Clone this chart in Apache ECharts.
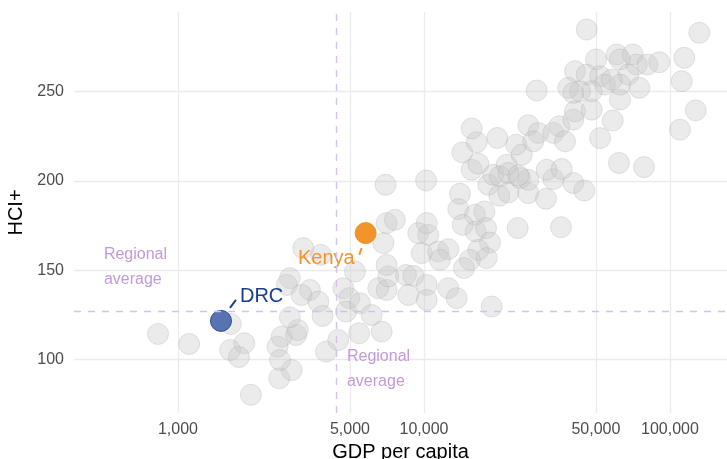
<!DOCTYPE html>
<html>
<head>
<meta charset="utf-8">
<script src="https://cdn.jsdelivr.net/npm/echarts@6/dist/echarts.min.js"></script>
<style>html,body{margin:0;padding:0;background:#fff}#c{width:727px;height:459px}</style>
</head>
<body>
<div id="c"></div>
<script>
// GDP per capita (x) and HCI+ (y) for each country (grey background points)
const gdp = [830,1110,1640,1630,1860,1770,1980,2580,2900,2540,2600,2640,3020,3070,2850,3230,3810,2850,2770,3440,3180,3720,3870,4000,4480,4700,4970,4820,
  5240,5490,6130,5450,6730,6520,7050,7160,7050,6840,7050,7620,6980,10200,8450,9050,8640,10260,10260,9480,10410,10260,9790,11430,12560,11610,12560,13580,18850,
  14010,13790,16120,17590,14370,16230,17870,18550,16630,15380,14540,17990,24040,36050,18260,20240,22020,26550,31330,26550,24560,33540,40450,44840,
  15630,16630,19130,20370,21690,22020,24170,31540,36290,62040,78410,
  14310,16380,15630,19860,23700,24960,26550,29150,27820,33540,35480,37430,40450,41100,48050,52000,58490,28720,45860,131560,114320,111590,127200,109830,
  50030,41100,60710,70540,62620,73220,80880,90490,67690,51930,45860,54420,48050,43070,38600,40450,62620,75030,62620,57940];
const hci = [114.4,108.8,120.0,105.4,109.2,101.5,80.4,89.6,94.2,107.3,99.8,112.9,113.8,116.6,123.7,162.4,158.6,145.6,141.8,139.0,136.2,132.5,124.5,104.5,111.0,140.0,134.4,126.9,
  149.3,131.6,125.0,114.8,115.7,140.0,139.0,146.5,153.0,165.2,176.4,178.2,197.8,200.2,147.4,146.9,136.2,141.8,133.4,170.8,169.8,176.4,159.6,160.5,161.8,155.8,140.0,134.4,129.7,
  192.8,184.2,181.0,182.9,175.4,171.7,173.6,165.5,161.4,155.8,151.2,156.8,173.6,174.1,197.8,191.7,193.5,193.2,190.0,200.6,201.6,201.0,198.8,194.6,
  206.2,209.6,203.4,202.5,209.0,204.4,202.9,206.2,206.6,210.0,207.7,
  215.9,221.6,229.3,224.0,220.2,214.6,231.1,226.8,222.1,226.8,230.5,222.1,234.2,238.9,239.8,223.9,233.7,250.5,284.6,282.8,268.8,255.7,239.4,228.6,
  267.9,261.3,270.7,270.7,267.9,265.0,265.0,266.3,259.4,258.5,259.4,253.8,250.1,250.1,252.0,249.2,245.4,252.0,253.8,256.6];

// highlighted countries
const drcPoint = [1496, 121.7];
const kenyaPoint = [5794, 170.8];
// regional averages
const avgGdp = 4390;
const avgHci = 127.1;
// axis ticks
const xTicks = [1000, 5000, 10000, 50000, 100000];
const yTicks = [100, 150, 200, 250];
const xRange = [378, 170500];
const yRange = [70.2, 294.4];
// annotation anchors (data coordinates)
const drcLeader = [[1627, 129.0], [1721, 133.4]];
const kenyaLeader = [[5458, 158.6], [5580, 162.4]];
const avgLabelLeft = [500, 151.6];
const avgLabelBottom = [4864, 94.6];

const FONT = 'Liberation Sans, Arial, sans-serif';
const purple = '#bf9bd9';
const greyData = gdp.map((g, i) => [g, hci[i]]);

const chart = echarts.init(document.getElementById('c'), null, {renderer: 'canvas'});
chart.setOption({
  animation: false,
  backgroundColor: '#fff',
  grid: {left: 74, right: 0, top: 12, bottom: 46, containLabel: false, outerBoundsMode: 'none'},
  xAxis: {
    type: 'log', logBase: 10, min: xRange[0], max: xRange[1],
    name: 'GDP per capita', nameLocation: 'middle', nameGap: 26,
    nameTextStyle: {color: '#000', fontSize: 20, fontFamily: FONT},
    axisLine: {show: false}, axisTick: {show: false, customValues: xTicks},
    axisLabel: {customValues: xTicks, color: '#4d4d4d', fontSize: 16, fontFamily: FONT, margin: 9,
      formatter: v => Number(v).toLocaleString('en-US')},
    splitLine: {show: true, lineStyle: {color: '#ebebeb', width: 1.3}},
    minorSplitLine: {show: false}
  },
  yAxis: {
    type: 'value', min: yRange[0], max: yRange[1],
    name: 'HCI+', nameLocation: 'middle', nameGap: 42, nameRotate: 90,
    nameTextStyle: {color: '#000', fontSize: 20, fontFamily: FONT},
    axisLine: {show: false}, axisTick: {show: false, customValues: yTicks},
    axisLabel: {customValues: yTicks, color: '#4d4d4d', fontSize: 16, fontFamily: FONT, margin: 10},
    splitLine: {show: true, lineStyle: {color: '#ebebeb', width: 1.3}}
  },
  series: [
    {
      type: 'scatter', name: 'countries', data: greyData, symbolSize: 21, z: 2,
      itemStyle: {color: 'rgba(200,200,200,0.36)', borderColor: 'rgba(165,165,165,0.3)', borderWidth: 1, opacity: 1},
      emphasis: {disabled: true},
      markLine: {
        silent: true, symbol: 'none', animation: false,
        label: {show: false},
        lineStyle: {color: '#d4c2ec', width: 1.4, type: [7, 7], opacity: 1},
        data: [{xAxis: avgGdp}, {yAxis: avgHci}]
      }
    },
    {
      type: 'scatter', name: 'DRC', data: [drcPoint], symbolSize: 21, z: 4,
      itemStyle: {color: '#5874b0', borderColor: '#2c4c8c', borderWidth: 1, opacity: 1},
      label: {show: true, formatter: 'DRC', position: 'right', distance: 5, offset: [3, -24], opacity: 1,
        color: '#163f8f', fontSize: 20, fontFamily: FONT},
      markLine: {silent: true, symbol: 'none', label: {show: false},
        lineStyle: {color: '#163f8f', width: 2, type: 'solid', opacity: 1},
        data: [[{coord: drcLeader[0]}, {coord: drcLeader[1]}]]}
    },
    {
      type: 'scatter', name: 'Kenya', data: [kenyaPoint], symbolSize: 21, z: 4,
      itemStyle: {color: '#f1952a', borderColor: '#ee9024', borderWidth: 1, opacity: 1},
      label: {show: true, formatter: 'Kenya', position: 'left', distance: 5, offset: [5, 25], opacity: 1,
        color: '#f1952a', fontSize: 20, fontFamily: FONT},
      markLine: {silent: true, symbol: 'none', label: {show: false},
        lineStyle: {color: '#f1952a', width: 2, type: 'solid', opacity: 1},
        data: [[{coord: kenyaLeader[0]}, {coord: kenyaLeader[1]}]]}
    },
    {
      type: 'scatter', name: 'annotations', symbolSize: 0, z: 3, silent: true,
      data: [
        {value: avgLabelLeft},
        {value: avgLabelBottom}
      ],
      itemStyle: {color: 'transparent', opacity: 1},
      label: {show: true, formatter: 'Regional\naverage', position: 'inside', align: 'left', verticalAlign: 'middle',
        color: purple, fontSize: 16, lineHeight: 25, fontFamily: FONT, opacity: 1}
    }
  ]
});
</script>
</body>
</html>
